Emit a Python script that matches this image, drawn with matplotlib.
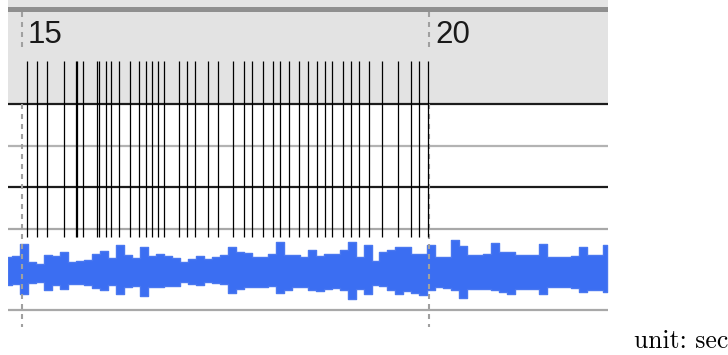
import numpy as np
import matplotlib
matplotlib.use("Agg")
import matplotlib.pyplot as plt

# ruler ticks (seconds) and label positions on the label track
ruler_ticks = [15, 20]
label_times = [15.061, 15.191, 15.307, 15.523, 15.662, 15.682, 15.756, 15.920,
               15.952, 16.030, 16.099, 16.197, 16.325, 16.435, 16.521, 16.598,
               16.676, 16.742, 16.933, 17.028, 17.122, 17.291, 17.410, 17.596,
               17.731, 17.829, 17.956, 18.083, 18.172, 18.279, 18.398, 18.508,
               18.619, 18.717, 18.807, 18.945, 19.040, 19.138, 19.261, 19.420,
               19.620, 19.772, 19.870, 19.988]

# waveform envelope (amplitude, full scale = 1), one value every env_step seconds
env_start = 14.832
env_step = 0.098
env_top = [0.31, 0.33, 0.63, 0.19, 0.14, 0.36, 0.33, 0.43, 0.19, 0.21,
           0.23, 0.38, 0.46, 0.28, 0.60, 0.36, 0.28, 0.56, 0.33, 0.38,
           0.33, 0.28, 0.19, 0.26, 0.33, 0.26, 0.31, 0.36, 0.56, 0.43,
           0.41, 0.31, 0.31, 0.38, 0.68, 0.36, 0.36, 0.31, 0.48, 0.33,
           0.38, 0.38, 0.48, 0.68, 0.31, 0.60, 0.21, 0.43, 0.48, 0.56,
           0.56, 0.38, 0.38, 0.60, 0.31, 0.31, 0.73, 0.58, 0.36, 0.36,
           0.38, 0.65, 0.43, 0.43, 0.36, 0.36, 0.36, 0.63, 0.31, 0.31,
           0.31, 0.33, 0.56, 0.36, 0.36, 0.60]
env_bottom = [0.38, 0.36, 0.60, 0.33, 0.31, 0.51, 0.38, 0.48, 0.36, 0.36,
              0.38, 0.46, 0.51, 0.38, 0.60, 0.43, 0.41, 0.65, 0.43, 0.43,
              0.41, 0.41, 0.31, 0.36, 0.38, 0.31, 0.33, 0.36, 0.58, 0.48,
              0.43, 0.43, 0.43, 0.41, 0.58, 0.51, 0.43, 0.43, 0.51, 0.53,
              0.48, 0.46, 0.51, 0.73, 0.48, 0.60, 0.38, 0.41, 0.51, 0.60,
              0.53, 0.58, 0.63, 0.51, 0.43, 0.46, 0.51, 0.70, 0.48, 0.48,
              0.48, 0.51, 0.56, 0.60, 0.48, 0.48, 0.48, 0.60, 0.43, 0.43,
              0.43, 0.46, 0.56, 0.51, 0.51, 0.56]

W, H = 728, 355
t_left, t_right = 14.832, 22.192


def px_box(x0, y0, x1, y1):
    return [x0 / W, 1 - y1 / H, (x1 - x0) / W, (y1 - y0) / H]


fig = plt.figure(figsize=(W / 100, H / 100), dpi=100)

# waveform track
wax = fig.add_axes(px_box(8, 229, 608, 310))
wax.set_zorder(0)
env_t = env_start + env_step * np.arange(len(env_top))
wax.fill_between(env_t, -np.array(env_bottom), env_top, step="mid",
                 facecolor="#3b6ef2", edgecolor="#4a78f0", lw=1.0)
wax.set_xlim(t_left, t_right)
wax.set_ylim(-1, 1)
wax.axis("off")

# ruler + label tracks (y in layout units, top = 0)
ax = fig.add_axes(px_box(8, 0, 608, 355))
ax.set_zorder(1)
ax.patch.set_visible(False)
ax.set_xlim(t_left, t_right)
ax.set_ylim(355, 0)
ax.axis("off")

ax.axhspan(0, 7, color="#e4e4e4", lw=0)
ax.axhspan(7, 12, color="#8f8f8f", lw=0)
ax.axhspan(12, 104, color="#e3e3e3", lw=0)

for y, c in [(104, "#1c1c1c"), (146, "#b3b3b3"), (187, "#1c1c1c"),
             (229, "#a8a8a8"), (310, "#a8a8a8")]:
    ax.axhline(y, color=c, lw=1.6)

dash = (0, (2.4, 2.4))
ax.vlines(ruler_ticks, 12, 52, colors="#a0a0a0", lw=1.5, linestyles=[dash])
ax.vlines(ruler_ticks, 104, 327, colors="#a0a0a0", lw=1.5, linestyles=[dash])

for t in ruler_ticks:
    ax.annotate(str(t), xy=(t, 35), xytext=(6, 0), textcoords="offset pixels",
                ha="left", va="center", fontsize=22.5, color="#1a1a1a",
                family="Liberation Sans")

ax.vlines(label_times, 61, 237, colors="black", lw=0.9)

fig.text(728 / W, 1 - 348 / H, "unit: sec", ha="right", va="baseline",
         fontsize=18.5, family="cmr10")

fig.savefig("out.png", dpi=100)
